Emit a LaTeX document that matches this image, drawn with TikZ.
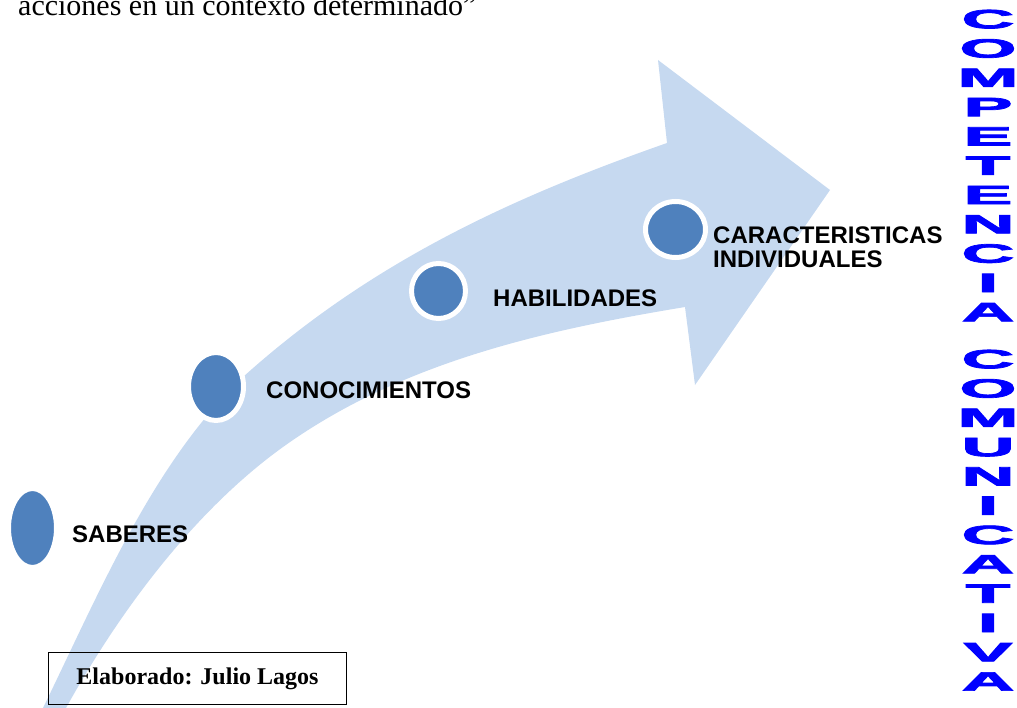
\documentclass[tikz,border=0pt]{standalone}
\usepackage{fontspec}
\setmainfont{Liberation Serif}
\setsansfont{Liberation Sans}
\newfontfamily\wordfont[BoldFeatures={FakeBold=2.5}]{Liberation Sans}
\usetikzlibrary{shapes.geometric}
\definecolor{bandblue}{RGB}{198,217,240}
\definecolor{dotblue}{RGB}{79,129,189}
\definecolor{wordblue}{RGB}{0,0,255}
\begin{document}
\begin{tikzpicture}[x=1pt,y=-1pt,
    dot/.style={ellipse,draw=white,line width=5pt,fill=dotblue,inner sep=0pt},
    stage/.style={anchor=base west,inner sep=0pt,font=\sffamily\bfseries\fontsize{24}{24}\selectfont},
    vword/.style={anchor=north,inner sep=0pt,text=wordblue,font=\wordfont\bfseries\fontsize{26.5}{29.3}\selectfont}]
  \useasboundingbox (0,0) rectangle (1017,708);
  % curved arrow
  \fill[bandblue] (43,708) .. controls (100,591) and (153,463) .. (243,377)
    .. controls (373,260) and (516,196) .. (667,143)
    -- (658,60) -- (830,190) -- (695,385) -- (685,307)
    .. controls (547,330) and (403,361) .. (283,447)
    .. controls (194,511) and (119,612) .. (66,708) -- cycle;
  % stages
  \node[dot,minimum width=48pt,minimum height=79pt] (saberes) at (32.5,528) {};
  \node[dot,minimum width=55pt,minimum height=68pt] (conocimientos) at (216,386.5) {};
  \node[dot,minimum width=54pt,minimum height=55pt] (habilidades) at (438.5,291) {};
  \node[dot,minimum width=60pt,minimum height=56pt] (caracteristicas) at (675.5,229.5) {};
  \node[stage] (tsaberes) at (72,542) {SABERES};
  \node[stage] (tconocimientos) at (266,399) {CONOCIMIENTOS};
  \node[stage] (thabilidades) at (493,307) {HABILIDADES};
  \node[stage,align=left,anchor=west] (tcaracteristicas) at (713,247) {CARACTERISTICAS\\INDIVIDUALES};
  % texts
  \node[anchor=base west,inner sep=0pt,font=\fontsize{30}{30}\selectfont] (cita) at (18,16)
    {acciones en un contexto determinado”};
  \node[draw,line width=1.5pt,minimum width=298pt,minimum height=52pt,inner sep=0pt,
    font=\bfseries\fontsize{24}{24}\selectfont] (autor) at (197.5,678.5) {Elaborado: Julio Lagos};
  \node[vword] (competencia) at (988,7.6)
    {\scalebox{2.75}[1]{\begin{tabular}{@{}c@{}}C\\O\\M\\P\\E\\T\\E\\N\\C\\I\\A\end{tabular}}};
  \node[vword] (comunicativa) at (988,347.6)
    {\scalebox{2.75}[1]{\begin{tabular}{@{}c@{}}C\\O\\M\\U\\N\\I\\C\\A\\T\\I\\V\\A\end{tabular}}};
\end{tikzpicture}
\end{document}
